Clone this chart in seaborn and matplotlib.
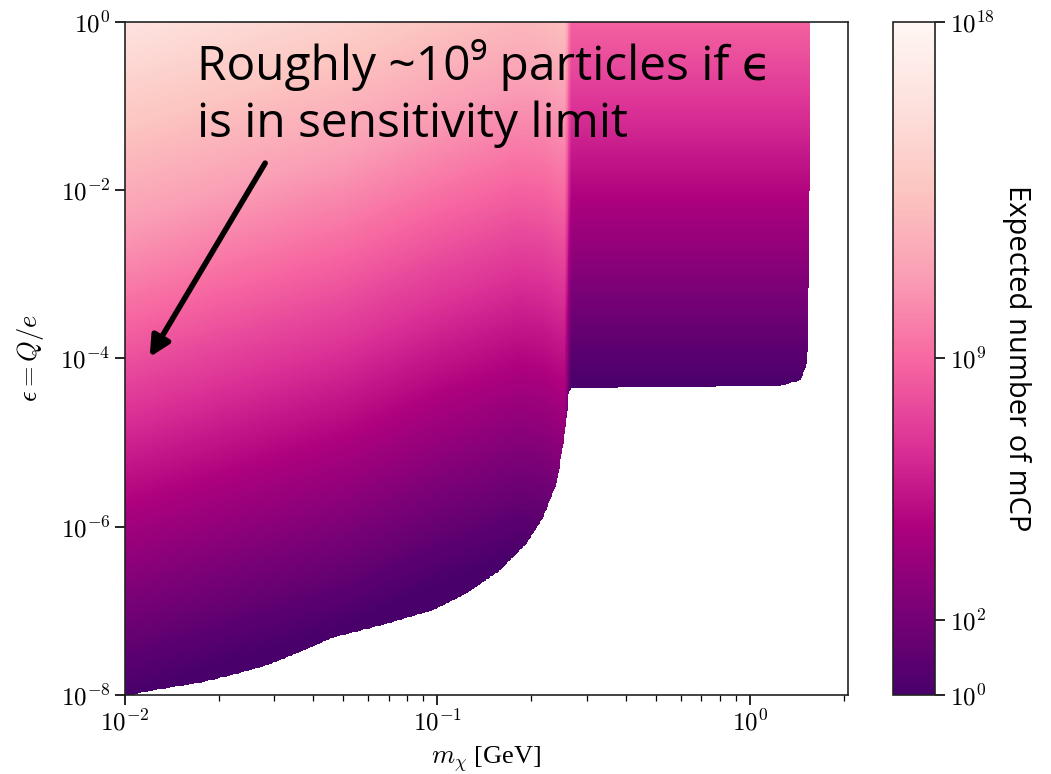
import matplotlib
matplotlib.use("Agg")
import matplotlib.pyplot as plt
import matplotlib.ticker as mticker
from matplotlib.colors import LogNorm
import numpy as np
import seaborn as sns

# lower edge of the coloured region (eps below this is white)
bound_mass = [0.0100, 0.0117, 0.0174, 0.0222, 0.0284, 0.0363, 0.0463, 0.0525, 0.0670,
              0.0968, 0.124, 0.158, 0.193, 0.218, 0.241, 0.256, 0.264, 0.269,
              1.25, 1.45, 1.51, 1.535, 1.55, 1.56]
bound_eps = [9.5e-9, 1.1e-8, 1.4e-8, 1.74e-8, 2.24e-8, 3.24e-8, 4.8e-8, 5.4e-8, 6.8e-8,
             1.02e-7, 1.62e-7, 3.0e-7, 6.3e-7, 1.29e-6, 3.3e-6, 1.29e-5, 4.0e-5, 4.5e-5,
             4.7e-5, 5.5e-5, 7.9e-5, 1.26e-4, 1e-2, 10.0]

# log10 of expected number of mCP at eps = 1 (N scales as eps^2)
rate_mass = [0.01, 0.02, 0.05, 0.10, 0.18, 0.22, 0.245, 0.256, 0.268, 1.60]
rate_log10 = [16.0, 15.3, 14.4, 13.4, 12.7, 12.8, 13.1, 13.1, 8.7, 8.7]

cbar_ticks = [1e0, 1e2, 1e9, 1e18]

sns.set_theme(style="ticks")
plt.rcParams['font.family'] = ['Liberation Serif', 'DejaVu Serif']
plt.rcParams['mathtext.fontset'] = 'cm'
plt.rcParams['text.color'] = 'black'
plt.rcParams['axes.labelcolor'] = 'black'
plt.rcParams['xtick.color'] = 'black'
plt.rcParams['ytick.color'] = 'black'

mass = np.logspace(-2, np.log10(2.06), 900)
eps = np.logspace(-8, 0, 900)
M, E = np.meshgrid(mass, eps)

logc = np.interp(np.log10(M), np.log10(rate_mass), rate_log10)
N = 10 ** (logc + 2 * np.log10(E))
eps_min = 10 ** np.interp(np.log10(M), np.log10(bound_mass), np.log10(bound_eps))
eps_min[M > bound_mass[-1]] = 1e3
N = np.ma.masked_where(E < eps_min, N)

cmap = sns.color_palette("RdPu_r", as_cmap=True)

fig = plt.figure(figsize=(10.51, 7.74), dpi=100)
ax = fig.add_axes([0.1189, 0.1021, 0.6879, 0.8695])
cax = fig.add_axes([0.8497, 0.1021, 0.0400, 0.8695])

mesh = ax.pcolormesh(M, E, N, cmap=cmap, norm=LogNorm(vmin=1, vmax=1e18),
                     shading='auto', rasterized=True)
ax.set_xscale('log')
ax.set_yscale('log')
ax.set_xlim(0.01, 2.06)
ax.set_ylim(1e-8, 1)

fmt = mticker.FuncFormatter(lambda v, p: r'$10^{%d}$' % round(np.log10(v)))
ax.xaxis.set_major_locator(mticker.LogLocator(base=10, numticks=10))
ax.xaxis.set_major_formatter(fmt)
ax.xaxis.set_minor_locator(mticker.LogLocator(base=10, subs=np.arange(2, 10), numticks=20))
ax.xaxis.set_minor_formatter(mticker.NullFormatter())
ax.yaxis.set_major_locator(mticker.FixedLocator([1e-8, 1e-6, 1e-4, 1e-2, 1e0]))
ax.yaxis.set_major_formatter(fmt)
ax.yaxis.set_minor_locator(mticker.NullLocator())
ax.tick_params(axis='both', which='major', labelsize=18, length=7, width=1.2, direction='out')
ax.tick_params(axis='x', which='minor', length=4, width=0.9, direction='out')
for s in ax.spines.values():
    s.set_linewidth(1.2)
    s.set_color('#222222')

ax.set_xlabel(r'$m_\chi$ [GeV]', fontsize=19, labelpad=6)
ax.set_ylabel(r'$\epsilon = Q/e$', fontsize=19, labelpad=10)

cb = fig.colorbar(mesh, cax=cax)
cb.set_ticks(cbar_ticks)
cb.ax.yaxis.set_major_formatter(fmt)
cb.ax.yaxis.set_minor_locator(mticker.NullLocator())
cb.ax.tick_params(labelsize=18, length=7, width=1.2)
cb.outline.set_linewidth(1.2)
cb.outline.set_edgecolor('#222222')
cb.set_label('Expected number of mCP', rotation=270, fontsize=21, labelpad=26,
             family=['Open Sans', 'DejaVu Sans'])

# annotation
ax.text(0.0996, 0.9138, 'Roughly ~10⁹ particles if ϵ', transform=ax.transAxes,
        fontsize=34.5, va='baseline', ha='left', color='black',
        family=['Open Sans', 'DejaVu Sans'])
ax.text(0.0996, 0.829, 'is in sensitivity limit', transform=ax.transAxes,
        fontsize=34.5, va='baseline', ha='left', color='black',
        family=['Open Sans', 'DejaVu Sans'])
ax.annotate('', xy=(0.0120, 1.04e-4), xytext=(0.0281, 0.021),
            arrowprops=dict(arrowstyle='-|>', lw=4, mutation_scale=30, color='black',
                            shrinkA=0, shrinkB=0))

fig.savefig('out.png', dpi=100)
